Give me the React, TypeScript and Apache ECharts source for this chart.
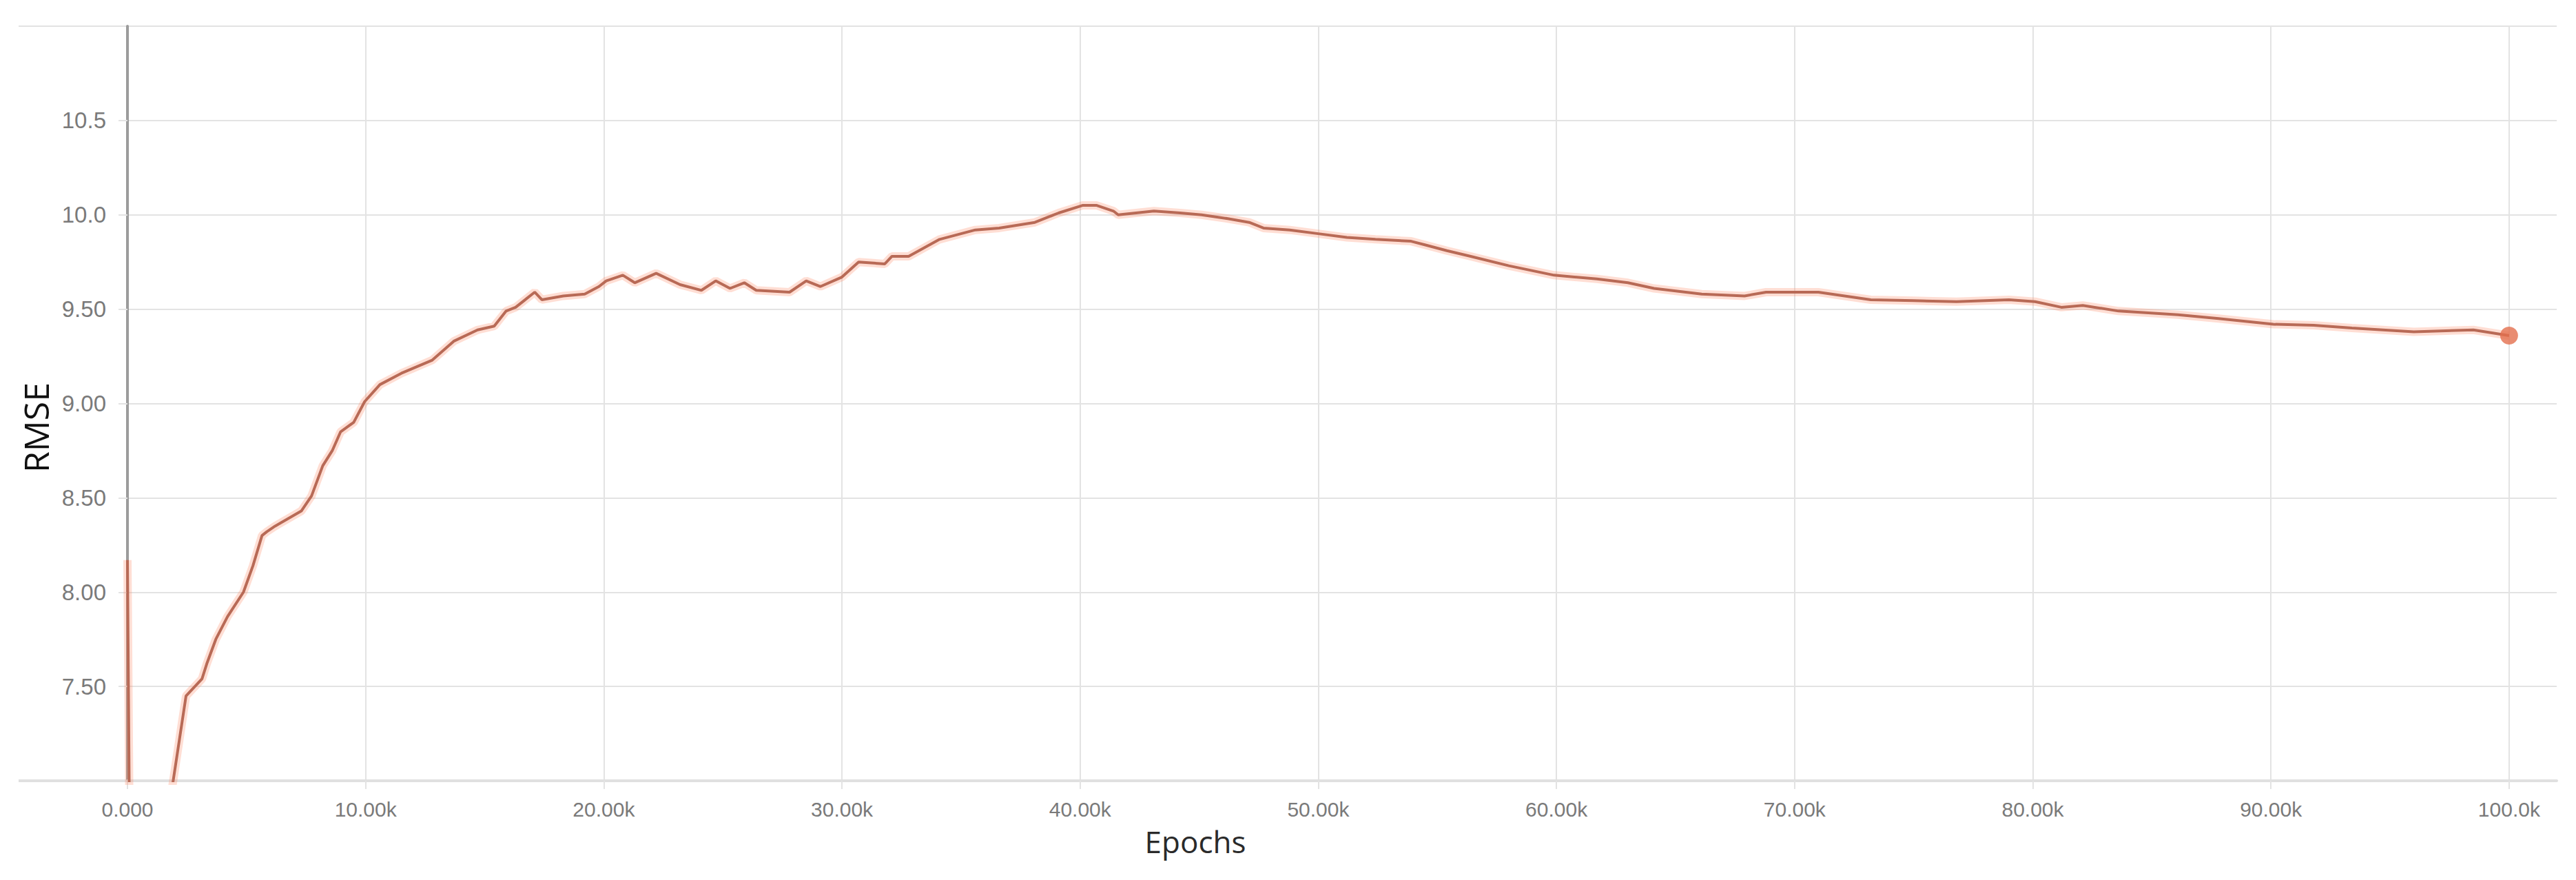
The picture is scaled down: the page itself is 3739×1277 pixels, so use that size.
import React, { useEffect, useRef } from "react";
import * as echarts from "echarts";

const epochs: number[] = [
  0, 120, 1500, 2460, 3130, 3330, 3710, 4200, 4870, 5270, 5650, 5850, 6200, 7300, 7730, 8200, 8600, 8950, 9500, 9960,
  10600, 11500, 12800, 13700, 14700, 15400, 15900, 16300, 17100, 17400, 18300, 19200, 19800, 20100, 20800, 21300, 22200,
  23200, 24100, 24700, 25300, 25900, 26400, 27800, 28500, 29100, 30000, 30700, 31800, 32100, 32800, 34100, 35600, 36600,
  38100, 39100, 40100, 40700, 41400, 41600, 43100, 44200, 45100, 46200, 47100, 47700, 48800, 50000, 51200, 52400, 53900,
  54500, 55400, 56400, 58000, 59900, 61700, 63000, 64100, 66100, 67900, 68800, 71000, 73200, 75000, 76800, 79000, 80100,
  81200, 82100, 83600, 86100, 87800, 90100, 91800, 93400, 96000, 98500, 100000,
];

const rmse: number[] = [
  8.17, 6.2, 6.65, 7.45, 7.54, 7.62, 7.75, 7.87, 8.0, 8.14, 8.3, 8.32, 8.35, 8.43, 8.51, 8.67, 8.75, 8.85, 8.9, 9.01,
  9.1, 9.16, 9.23, 9.33, 9.39, 9.41, 9.49, 9.51, 9.59, 9.55, 9.57, 9.58, 9.62, 9.65, 9.68, 9.64, 9.69,
  9.63, 9.6, 9.65, 9.61, 9.64, 9.6, 9.59, 9.65, 9.62, 9.67, 9.75, 9.74, 9.78, 9.78, 9.87, 9.92, 9.93,
  9.96, 10.01, 10.05, 10.05, 10.02, 10.0, 10.02, 10.01, 10.0, 9.98, 9.96, 9.93, 9.92, 9.9, 9.88, 9.87, 9.86,
  9.84, 9.81, 9.78, 9.73, 9.68, 9.66, 9.64, 9.61, 9.58, 9.57, 9.59, 9.59, 9.55, 9.545, 9.54, 9.55, 9.54,
  9.51, 9.52, 9.49, 9.47, 9.45, 9.42, 9.415, 9.4, 9.38, 9.39, 9.36,
];

const xTickLabels: string[] = ["0.000", "10.00k", "20.00k", "30.00k", "40.00k", "50.00k", "60.00k", "70.00k", "80.00k", "90.00k", "100.0k"];

const GRID = { left: 185, right: 28, top: 38, bottom: 144 };
const W = 3739;
const H = 1277;

export default function App() {
  const ref = useRef<HTMLDivElement>(null);

  useEffect(() => {
    if (!ref.current) return;
    const chart = echarts.init(ref.current, undefined, { renderer: "svg" });
    const data = epochs.map((e, i) => [e, rmse[i]]);
    const last = data[data.length - 1];
    const gridColor = "#e3e3e3";
    chart.setOption({
      animation: false,
      backgroundColor: "#ffffff",
      grid: { ...GRID, containLabel: false },
      xAxis: {
        type: "value",
        min: 0,
        max: 102000,
        interval: 10000,
        name: "Epochs",
        nameLocation: "middle",
        nameGap: 66,
        nameTextStyle: {
          fontFamily: "'Open Sans', 'Noto Sans', sans-serif",
          fontSize: 44,
          color: "#2a2a2a",
          padding: [0, 426, 0, 0],
        },
        axisLine: { show: true, lineStyle: { color: "#e0e0e0", width: 4 } },
        axisTick: { show: true, length: 12, lineStyle: { color: gridColor, width: 2 } },
        splitLine: { show: true, showMaxLine: false, lineStyle: { color: gridColor, width: 2 } },
        axisLabel: {
          showMaxLabel: false,
          margin: 26,
          fontSize: 30,
          color: "#7a7a7a",
          fontFamily: "'Liberation Sans', Arial, sans-serif",
          formatter: (v: number) => {
            const idx = Math.round(v / 10000);
            return xTickLabels[idx] ?? "";
          },
        },
      },
      yAxis: {
        type: "value",
        min: 7,
        max: 11,
        interval: 0.5,
        name: "RMSE",
        nameLocation: "middle",
        nameRotate: 90,
        nameGap: 108,
        nameTextStyle: {
          fontFamily: "'Open Sans', 'Noto Sans', sans-serif",
          fontSize: 50,
          color: "#111111",
          padding: [0, 70, 0, 0],
        },
        axisLine: { show: true, lineStyle: { color: "#9c9c9c", width: 4 } },
        axisTick: { show: true, length: 13, lineStyle: { color: gridColor, width: 2 } },
        splitLine: { show: true, lineStyle: { color: gridColor, width: 2 } },
        axisLabel: {
          showMinLabel: false,
          showMaxLabel: false,
          margin: 31,
          fontSize: 33,
          color: "#7a7a7a",
          fontFamily: "'Liberation Sans', Arial, sans-serif",
          formatter: (v: number) => (v >= 10 ? v.toFixed(1) : v.toFixed(2)),
        },
      },
      graphic: [
        {
          type: "line",
          shape: { x1: 27, y1: GRID.top, x2: GRID.left, y2: GRID.top },
          style: { stroke: gridColor, lineWidth: 2 },
          silent: true,
        },
        {
          type: "line",
          shape: { x1: 27, y1: H - GRID.bottom, x2: GRID.left, y2: H - GRID.bottom },
          style: { stroke: "#e0e0e0", lineWidth: 4 },
          silent: true,
        },
      ],
      series: [
        {
          name: "raw",
          type: "line",
          data,
          showSymbol: false,
          clip: true,
          lineStyle: { color: "rgba(255,135,100,0.28)", width: 12 },
          silent: true,
          z: 1,
        },
        {
          name: "RMSE",
          type: "line",
          data,
          showSymbol: false,
          clip: true,
          lineStyle: { color: "#b86a56", width: 4 },
          z: 2,
        },
        {
          name: "last",
          type: "scatter",
          data: [last],
          symbol: "circle",
          symbolSize: 26,
          itemStyle: { color: "#e46f4e" },
          z: 3,
        },
      ],
    });
    return () => chart.dispose();
  }, []);

  return (
    <div
      ref={ref}
      style={{ position: "fixed", left: 0, top: 0, width: W, height: H, background: "#fff" }}
    />
  );
}
